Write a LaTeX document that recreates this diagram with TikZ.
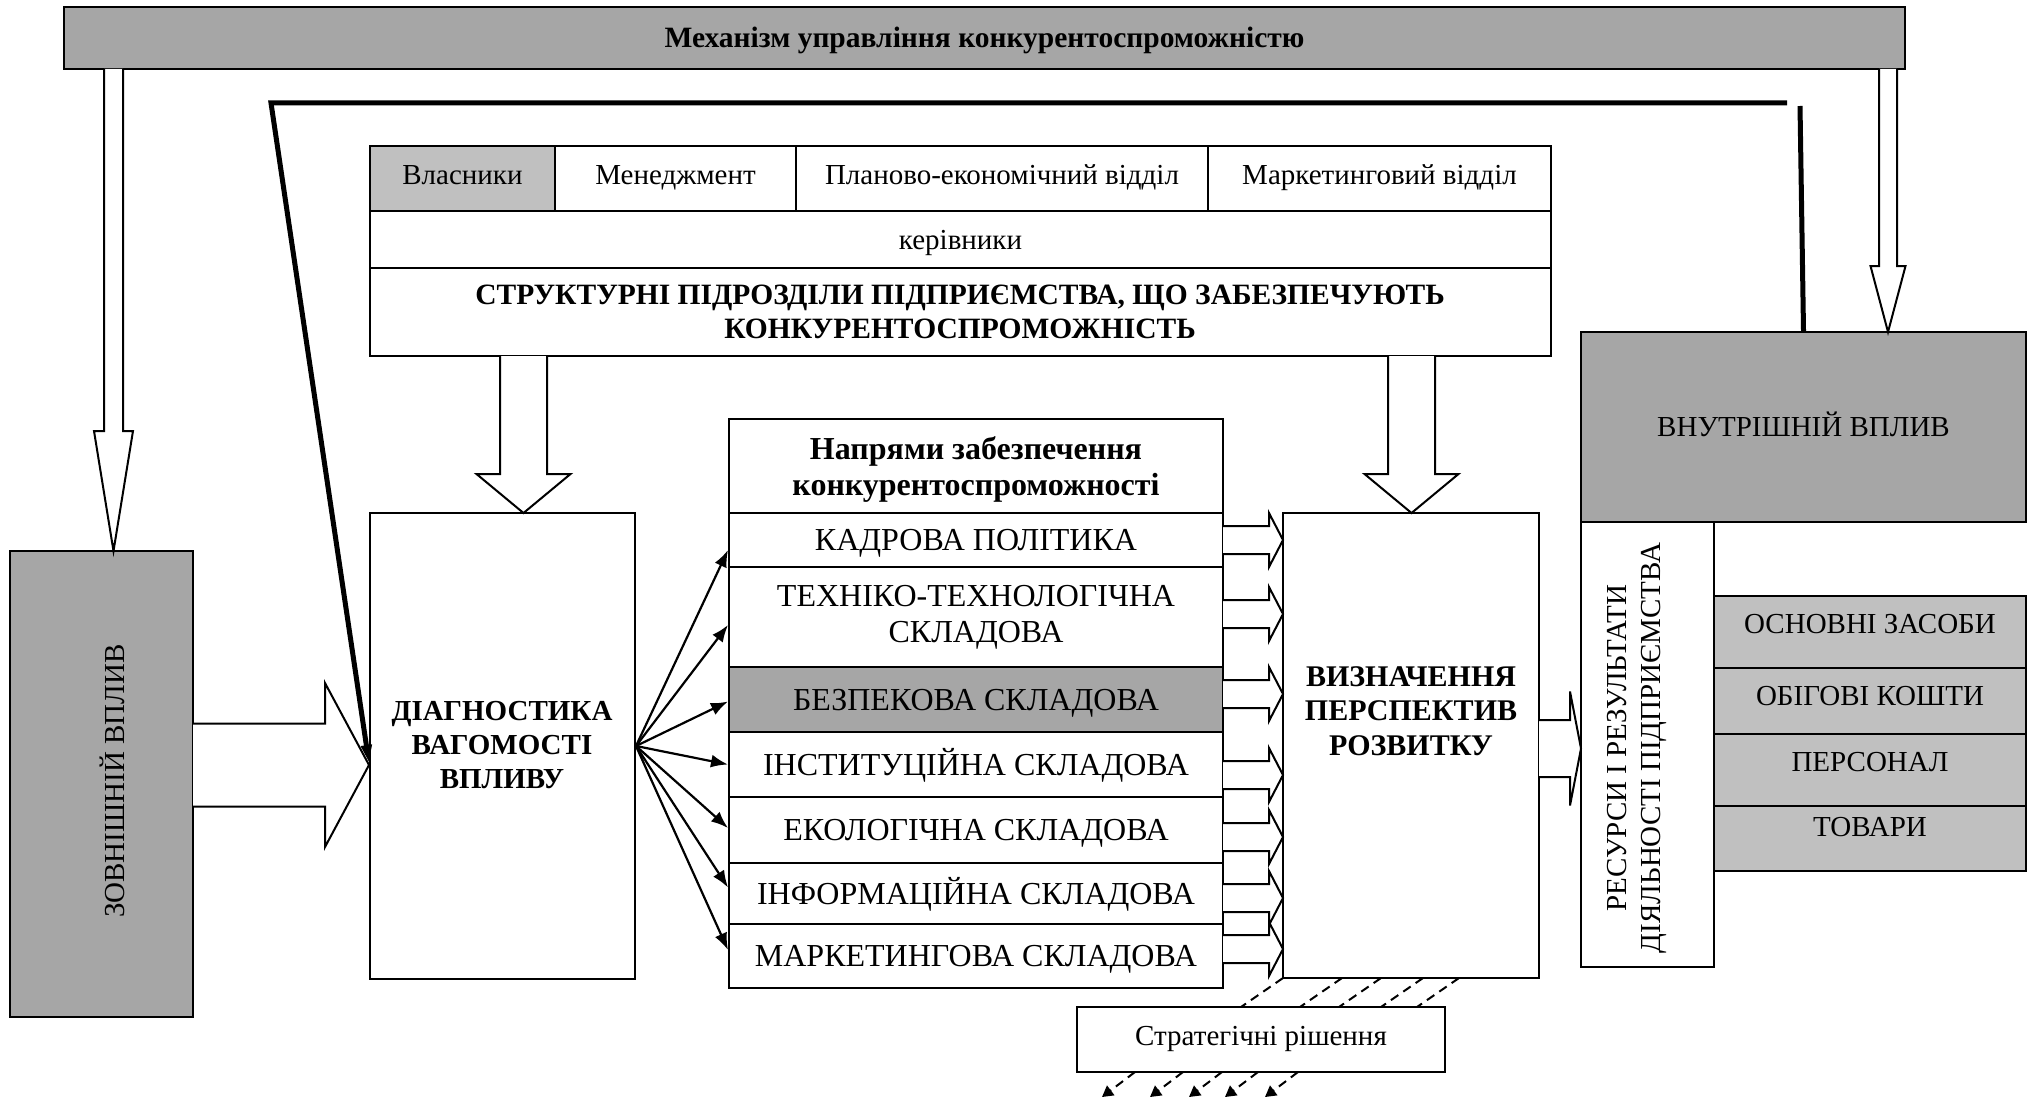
\documentclass[tikz,border=0pt]{standalone}
\usepackage{fontspec}
\setmainfont{Liberation Serif}
\usetikzlibrary{arrows.meta,calc}
\definecolor{dg}{HTML}{A6A6A6}
\definecolor{lg}{HTML}{C0C0C0}
\newcommand\rgf{\fontsize{29}{34}\selectfont}
\newcommand\bdf{\fontsize{29}{34}\selectfont\bfseries}
\newcommand\rgbig{\fontsize{32}{36}\selectfont}
\newcommand\bdbig{\fontsize{32}{36}\selectfont\bfseries}
\newcommand\bdmid{\fontsize{30}{34.5}\selectfont\bfseries}
\newcommand\bdtitle{\fontsize{29.5}{33.5}\selectfont\bfseries}
% [opts]{name}{x1}{y1}{x2}{y2}{text}
\newcommand\bx[7][]{\node[box,#1,minimum width={(#5-#3)*1pt},minimum height={(#6-#4)*1pt}] (#2) at ({(#3+#5)/2},{(#4+#6)/2}) {#7};}
% vertical hollow arrow: {xc}{ystart}{yhead}{ytip}{shaft half}{head half}
\newcommand\varr[6]{\draw[hollow] ({#1-#5},#2) -- ({#1-#5},#3) -- ({#1-#6},#3) -- (#1,#4) -- ({#1+#6},#3) -- ({#1+#5},#3) -- ({#1+#5},#2);}
% horizontal hollow arrow: {yc}{xstart}{xhead}{xtip}{shaft half}{head half}
\newcommand\harr[6]{\draw[hollow] (#2,{#1-#5}) -- (#3,{#1-#5}) -- (#3,{#1-#6}) -- (#4,#1) -- (#3,{#1+#6}) -- (#3,{#1+#5}) -- (#2,{#1+#5});}
\begin{document}
\begin{tikzpicture}[x=1pt,y=-1pt,
  box/.style={draw=black,line width=2pt,fill=white,inner sep=0pt,align=center,font=\rgf,text height=19pt,text depth=0pt},
  bigrow/.style={font=\rgbig,text height=21pt},
  toprow/.style={text depth=7pt},
  txt/.style={inner sep=0pt,align=center,font=\rgf},
  btxt/.style={inner sep=0pt,align=center,font=\bdf},
  hollow/.style={draw=black,fill=white,line width=2pt,line join=miter},
  fan/.style={line width=2.2pt,-{Latex[length=17pt,width=13pt]}},
  thk/.style={line width=5pt,line join=miter},
  dsh/.style={line width=2pt,dash pattern=on 9pt off 6pt},
  dsharr/.style={line width=2pt,dash pattern=on 9pt off 6pt,-{Triangle[length=11pt,width=12pt]}}]
\useasboundingbox (0,0) rectangle (2033,1102);

% top bar
\bx[fill=dg,font=\bdtitle]{mech}{64}{7}{1905}{69}{Механізм управління конкурентоспроможністю}

% external influence
\bx[fill=dg]{zov}{10}{551}{193}{1017}{}
\node[txt,rotate=90] (zovt) at (112,781) {ЗОВНІШНІЙ ВПЛИВ};

% structural units
\bx[fill=lg,toprow]{vl}{370}{146}{555}{211}{Власники}
\bx[toprow]{men}{555}{146}{796}{211}{Менеджмент}
\bx[toprow]{plan}{796}{146}{1208}{211}{Планово-економічний відділ}
\bx[toprow]{mrk}{1208}{146}{1551}{211}{Маркетинговий відділ}
\bx{ker}{370}{211}{1551}{268}{керівники}
\bx{stru}{370}{268}{1551}{356}{}
\node[btxt,font=\bdtitle] (strut) at (960,312) {СТРУКТУРНІ ПІДРОЗДІЛИ ПІДПРИЄМСТВА, ЩО ЗАБЕЗПЕЧУЮТЬ\\КОНКУРЕНТОСПРОМОЖНІСТЬ};

% diagnostics
\bx{diag}{370}{513}{635}{979}{}
\node[btxt] (diagt) at (502,745) {ДІАГНОСТИКА\\ВАГОМОСТІ\\ВПЛИВУ};

% directions table
\bx{hdr}{729}{419}{1223}{513}{}
\node[btxt,font=\bdbig] (hdrt) at (976,469) {Напрями забезпечення\\конкурентоспроможності};
\bx[bigrow]{r1}{729}{513}{1223}{567}{КАДРОВА ПОЛІТИКА}
\bx{r2}{729}{567}{1223}{667}{}
\node[txt,font=\rgbig] (r2t) at (976,617) {ТЕХНІКО-ТЕХНОЛОГІЧНА\\СКЛАДОВА};
\bx[fill=dg,bigrow]{r3}{729}{667}{1223}{732}{БЕЗПЕКОВА СКЛАДОВА}
\bx[bigrow]{r4}{729}{732}{1223}{797}{ІНСТИТУЦІЙНА СКЛАДОВА}
\bx[bigrow]{r5}{729}{797}{1223}{863}{ЕКОЛОГІЧНА СКЛАДОВА}
\bx[bigrow]{r6}{729}{863}{1223}{924}{ІНФОРМАЦІЙНА СКЛАДОВА}
\bx[bigrow]{r7}{729}{924}{1223}{988}{МАРКЕТИНГОВА СКЛАДОВА}

% development prospects
\bx{viz}{1283}{513}{1539}{978}{}
\node[btxt,font=\bdmid] (vizt) at (1411,711) {ВИЗНАЧЕННЯ\\ПЕРСПЕКТИВ\\РОЗВИТКУ};

% internal influence
\bx[fill=dg]{vn}{1581}{332}{2026}{522}{ВНУТРІШНІЙ ВПЛИВ}
\bx{res}{1581}{522}{1714}{967}{}
\node[txt,rotate=90] (rest) at (1637,748) {РЕСУРСИ І РЕЗУЛЬТАТИ\\ДІЯЛЬНОСТІ ПІДПРИЄМСТВА};
\bx[fill=lg]{o1}{1714}{596}{2026}{668}{}
\bx[fill=lg]{o2}{1714}{668}{2026}{734}{}
\bx[fill=lg]{o3}{1714}{734}{2026}{806}{}
\bx[fill=lg]{o4}{1714}{806}{2026}{871}{}
\node[txt] (o1t) at (1870,624) {ОСНОВНІ ЗАСОБИ};
\node[txt] (o2t) at (1870,696) {ОБІГОВІ КОШТИ};
\node[txt] (o3t) at (1870,762) {ПЕРСОНАЛ};
\node[txt] (o4t) at (1870,827) {ТОВАРИ};

% strategic decisions
\bx[toprow]{strat}{1077}{1007}{1445}{1072}{Стратегічні рішення}

% hollow arrows
\varr{113.5}{69}{431}{551}{9.5}{19.5}
\varr{1888}{69}{266}{332}{9}{17.5}
\varr{523.5}{356}{474}{513}{23.5}{47}
\varr{1411.5}{356}{474}{513}{23.5}{47}
\harr{765}{193}{325}{369}{41.5}{82}
\foreach \yc in {540,614,694,775,837,898,949} {\harr{\yc}{1223}{1269}{1283}{14}{27}}
\harr{748.5}{1539}{1570}{1581}{28.5}{57}

% fan arrows
\foreach \r/\dy in {r1/10,r2/8,r3/2,r4/0,r5/-2,r6/-6,r7/-6}
  \draw[fan] (diag.east) -- ($(\r.west)+(0,\dy)$);

% thick line
\coordinate (tk1) at (1787,103);
\coordinate (tk2) at (271,103);
\coordinate (tk3) at (1800,106);
\draw[thk,-{Triangle[length=18pt,width=10pt]}] (tk1) -- (tk2) -- ($(diag.west)+(0,17)$);
\draw[thk] (tk3) -- (vn.north);

% dashed lines
\foreach \i/\x in {1/1283,2/1342,3/1381,4/1423,5/1459} {
  \coordinate (da\i) at (\x,978);
  \coordinate (db\i) at ({\x-42},1007);
  \draw[dsh] (da\i) -- (db\i);
}
\foreach \i/\x in {1/1135,2/1183,3/1222,4/1258,5/1298} {
  \coordinate (dc\i) at (\x,1072);
  \coordinate (dd\i) at ({\x-33},1097);
  \draw[dsharr] (dc\i) -- (dd\i);
}
\end{tikzpicture}
\end{document}
